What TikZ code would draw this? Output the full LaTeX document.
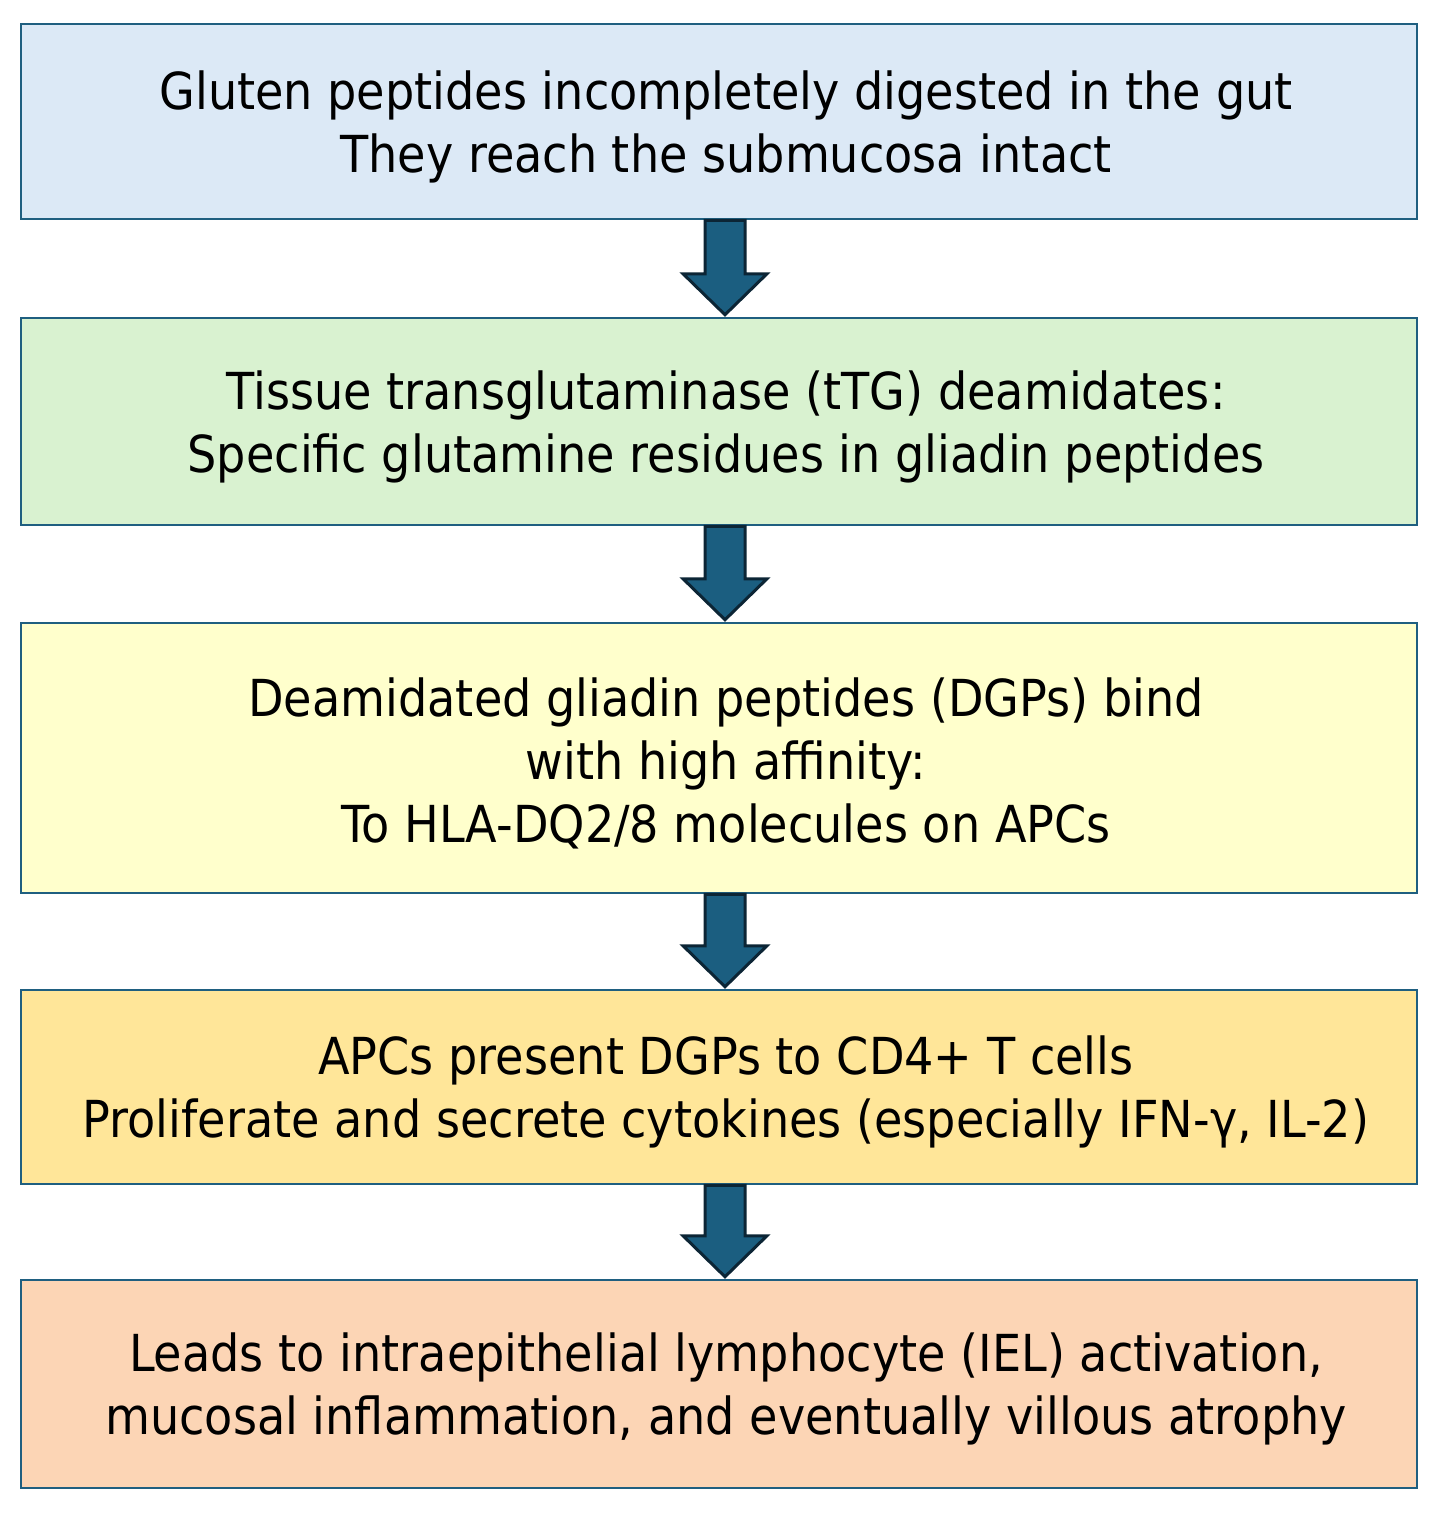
\documentclass[tikz,border=0pt]{standalone}
\usepackage{fontspec}
\setmainfont{DejaVu Sans}[FakeStretch=0.905]
\usetikzlibrary{calc}
\definecolor{boxline}{HTML}{1F5F80}
\definecolor{arrfill}{HTML}{1B5E80}
\definecolor{arrline}{HTML}{0C2535}
\definecolor{cA}{HTML}{DCE9F6}
\definecolor{cB}{HTML}{D9F2D0}
\definecolor{cC}{HTML}{FFFFCC}
\definecolor{cD}{HTML}{FFE699}
\definecolor{cE}{HTML}{FCD5B5}
\tikzset{
  flowbox/.style={draw=boxline, line width=2.5pt, minimum width=1396pt, inner sep=0pt},
  flowtext/.style={align=center, inner sep=0pt, font=\fontsize{51}{63}\selectfont},
  bigarrow/.style={fill=arrfill, draw=arrline, line width=3pt, line join=miter}
}
\newcommand\flowarrow[2]{%
  \path[bigarrow] ($(#1.south)+(-14,0)$) -- ($(#1.south)+(26,0)$) --
    ($(#2.north)+(26,-43)$) -- ($(#2.north)+(48,-43)$) -- ($(#2.north)+(6,-2)$) --
    ($(#2.north)+(-36,-43)$) -- ($(#2.north)+(-14,-43)$) -- cycle;}
\begin{document}
\begin{tikzpicture}[x=1pt,y=-1pt]
\useasboundingbox[fill=white] (0,0) rectangle (1439,1518);
\node[flowbox, fill=cA, minimum height=195pt] (a) at (719,121.5) {};
\node[flowbox, fill=cB, minimum height=207pt] (b) at (719,421.5) {};
\node[flowbox, fill=cC, minimum height=270pt] (c) at (719,758) {};
\node[flowbox, fill=cD, minimum height=194pt] (d) at (719,1087) {};
\node[flowbox, fill=cE, minimum height=208pt] (e) at (719,1384) {};
\node[flowtext] (ta) at ($(a.center)+(7,5)$)
  {Gluten peptides incompletely digested in the gut\\They reach the submucosa intact};
\node[flowtext] (tb) at ($(b.center)+(7,5)$)
  {Tissue transglutaminase (tTG) deamidates:\\Specific glutamine residues in gliadin peptides};
\node[flowtext] (tc) at ($(c.center)+(7,5)$)
  {Deamidated gliadin peptides (DGPs) bind\\with high affinity:\\To HLA-DQ2/8 molecules on APCs};
\node[flowtext] (td) at ($(d.center)+(7,5)$)
  {APCs present DGPs to CD4+ T cells\\Proliferate and secrete cytokines (especially IFN-γ, IL-2)};
\node[flowtext] (te) at ($(e.center)+(7,5)$)
  {Leads to intraepithelial lymphocyte (IEL) activation,\\mucosal inflammation, and eventually villous atrophy};
\flowarrow{a}{b}
\flowarrow{b}{c}
\flowarrow{c}{d}
\flowarrow{d}{e}
\end{tikzpicture}
\end{document}
